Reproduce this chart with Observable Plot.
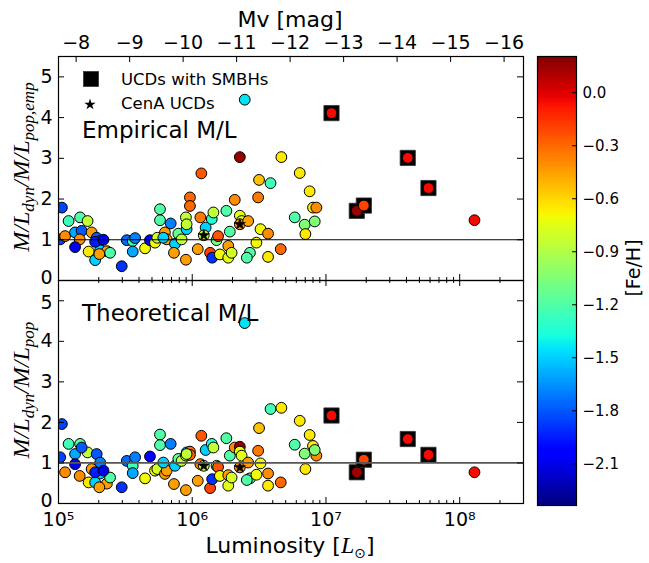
<!DOCTYPE html>
<html><head><meta charset="utf-8">
<script src="https://cdn.jsdelivr.net/npm/d3@7"></script>
<script src="https://cdn.jsdelivr.net/npm/@observablehq/plot@0.6"></script>
<style>
body{margin:0;background:#fff;}
#wrap{position:relative;width:649px;height:563px;overflow:hidden;background:#fff;}
#wrap svg{position:absolute;}
</style></head><body><div id="wrap"></div>
<script>
// ---- data ----
const lum = [1.06e5,1.19e5,1.45e5,1.65e5,1.03e5,1.12e5,1.33e5,1.49e5,1.44e5,1.77e5,
  1.93e5,2.05e5,1.33e5,1.68e5,2.05e5,1.88e5,2.30e5,2.43e5,2.97e5,3.24e5,
  3.59e5,3.74e5,3.59e5,4.44e5,4.83e5,5.27e5,5.48e5,5.74e5,5.74e5,6.25e5,
  6.44e5,6.90e5,7.43e5,7.30e5,7.87e5,8.33e5,9.08e5,8.97e5,9.61e5,9.61e5,
  9.08e5,8.97e5,1.10e6,1.17e6,1.15e6,1.26e6,1.22e6,1.40e6,1.44e6,1.52e6,
  1.56e6,1.36e6,1.41e6,1.61e6,1.80e6,1.86e6,1.86e6,1.97e6,1.91e6,2.08e6,
  2.27e6,2.27e6,2.34e6,2.27e6,2.62e6,2.47e6,2.70e6,2.56e6,3.02e6,3.11e6,
  3.16e6,3.24e6,3.69e6,3.69e6,3.85e6,4.59e6,4.64e6,5.84e6,6.37e6,7.55e6,
  8.0e6,8.48e6,6.93e6,8.24e6,7.02e6,1.88e5,2.17e5,2.02e5,6.08e5,1.29e8];
const feh = [-1.85,-1.25,-1.2,-0.85,-1.85,-0.4,-1.6,-1.8,-0.4,-0.45,
  -1.8,-1.7,-2.1,-0.65,-1.5,-1.5,-0.45,-1.2,-1.9,-1.75,
  -1.25,-1.7,-1.6,-0.7,-2.05,-0.7,-0.8,-1.2,-1.2,-0.45,
  -0.45,-1.7,-1.5,-0.45,-1.15,-0.85,-1.5,-0.85,-0.3,-0.3,
  -0.85,-0.45,-0.45,-0.25,-0.35,-1.5,-0.85,-1.35,-0.85,-1.1,
  -0.25,-0.2,-1.9,-0.7,-1.2,-0.45,-0.75,-0.8,-1.2,-0.4,
  0.15,-0.75,-0.75,-0.4,-0.45,-1.45,-1.2,-1.2,-0.7,-0.35,
  -0.55,-0.7,-0.4,-0.65,-1.25,-0.3,-0.65,-1.2,-0.65,-0.65,
  -0.65,-0.4,-1.05,-1.05,-0.65,-1.95,-2.1,-0.45,-1.5,-0.05];
const mlEmp = [1.79,1.46,1.55,1.46,1.01,1.09,1.18,1.22,1.01,1.18,
  1.05,0.97,0.82,0.71,0.74,0.50,0.72,0.68,0.35,0.99,
  0.97,1.04,0.71,0.79,0.99,0.93,1.05,1.75,1.48,1.18,
  1.01,1.40,0.90,0.68,1.15,1.01,1.26,1.55,2.04,1.83,
  1.38,0.51,0.77,2.63,1.55,1.30,1.11,1.51,1.67,0.99,
  1.09,0.68,0.56,0.64,1.71,0.85,0.56,0.68,1.20,1.98,
  3.03,1.59,1.46,1.38,1.46,4.44,0.68,0.56,0.93,2.04,
  2.47,1.26,1.15,0.58,2.39,0.77,3.03,1.55,2.64,2.19,
  1.79,1.79,1.37,1.45,1.14,0.95,1.00,0.65,1.05,1.48];
const mlTheo = [1.96,1.47,1.47,1.26,1.14,0.77,1.22,1.38,0.68,0.85,
  1.22,1.01,0.97,0.52,0.74,0.52,0.49,0.64,0.40,1.05,
  0.93,1.14,0.75,0.62,1.16,0.81,0.85,1.70,1.44,0.73,
  0.81,1.47,0.93,0.48,1.10,1.05,1.26,1.18,1.28,1.20,
  1.22,0.33,0.56,1.67,0.97,1.32,0.93,1.47,1.38,0.93,
  0.90,0.38,0.60,0.68,1.61,0.70,0.44,0.64,1.18,1.38,
  1.40,1.28,1.18,0.89,1.01,4.45,0.62,0.58,0.71,1.30,
  1.86,0.99,0.74,0.44,2.33,0.52,2.36,1.45,2.04,1.69,
  1.42,1.18,1.23,1.32,0.85,0.77,0.81,0.40,1.01,0.77];
const smbhLum  = [1.10e7,1.70e7,1.92e7,4.09e7,5.84e7];
const smbhFeh  = [-0.05,0.15,-0.2,-0.05,-0.05];
const smbhEmp  = [4.11,1.71,1.84,3.01,2.27];
const smbhTheo = [2.17,0.77,1.08,1.59,1.20];
const cenaLum  = [1.22e6,2.27e6];
const cenaEmp  = [1.11,1.38];
const cenaTheo = [0.93,0.89];
const xMajorTicks = [1e5,1e6,1e7,1e8];
const xMinorMult = [2,3,4,5,6,7,8,9];
const yTicks = [0,1,2,3,4,5];
const mvTicks = [-8,-9,-10,-11,-12,-13,-14,-15,-16];
const fehTicks = [0.0,-0.3,-0.6,-0.9,-1.2,-1.5,-1.8,-2.1];
const FEH_DOMAIN = [-2.336,0.205];
const X_DOMAIN = [1e5,3e8];
const Y_DOMAIN = [0,5.5];
const MSUN_V = 4.83;

// matplotlib "jet"
function jet(t){
  t = Math.max(0, Math.min(1, t));
  const seg = pts => { for (let i = 1; i < pts.length; i++) if (t <= pts[i][0]) { const [x0,v0] = pts[i-1], [x1,v1] = pts[i]; return v0 + (v1-v0)*(t-x0)/(x1-x0); } return pts[pts.length-1][1]; };
  const r = seg([[0,0],[0.35,0],[0.66,1],[0.89,1],[1,0.5]]);
  const g = seg([[0,0],[0.125,0],[0.375,1],[0.64,1],[0.91,0],[1,0]]);
  const b = seg([[0,0.5],[0.11,1],[0.34,1],[0.65,0],[1,0]]);
  return `rgb(${Math.round(r*255)},${Math.round(g*255)},${Math.round(b*255)})`;
}
const colorScale = {type:"linear", domain: FEH_DOMAIN, interpolate: jet};
const minorTicks = xMajorTicks.flatMap(m => xMinorMult.map(k => k*m)).filter(v => v < X_DOMAIN[1]);
const mvLum = mvTicks.map(m => Math.pow(10, (MSUN_V - m)/2.5));
const fmtMinus = v => String(v).replace("-", "\u2212");
const supDigits = {"0":"\u2070","1":"\u00b9","2":"\u00b2","3":"\u00b3","4":"\u2074","5":"\u2075","6":"\u2076","7":"\u2077","8":"\u2078","9":"\u2079"};

const W = 530, ML = 58, MR = 7, TICK = 6, MINOR = 3;
const style = {background:"transparent", overflow:"visible", fontFamily:"DejaVu Sans"};
const wrap = document.getElementById("wrap");
const yAxisOpts = {anchor:"left", tickSize:0, tickPadding:6, fontSize:19, label:null, tickFormat: d => String(d)};

function panel({vals, smbhVals, cenaVals, height, marginTop, marginBottom, isTop, lineStroke, lineWidth}){
  const innerH = height - marginTop - marginBottom;
  const innerW = W - ML - MR;
  const pts = lum.map((L,i) => ({L, feh: feh[i], v: vals[i]}));
  const sm = smbhLum.map((L,i) => ({L, feh: smbhFeh[i], v: smbhVals[i]}));
  const ce = cenaLum.map((L,i) => ({L, v: cenaVals[i]}));
  const marks = [
    Plot.dot(sm, {x:"L", y:"v", symbol:"square", r:8.6, fill:"black", stroke:"#333", strokeWidth:0.8}),
    Plot.dot(pts, {x:"L", y:"v", r:5.4, fill:"feh", stroke:"black", strokeWidth:1, clip:true}),
    Plot.dot(sm, {x:"L", y:"v", r:5.4, fill:"feh", stroke:"black", strokeWidth:1}),
    Plot.dot(ce, {x:"L", y:"v", symbol:"star", r:3.5, fill:"black", stroke:"black", strokeWidth:0.6}),
    Plot.ruleY([1], {stroke: lineStroke, strokeWidth: lineWidth}),
    // inward ticks
    Plot.tickX(xMajorTicks, {x: d=>d, insetTop: innerH - TICK, stroke:"black"}),
    Plot.tickX(minorTicks, {x: d=>d, insetTop: innerH - MINOR, stroke:"black"}),
    Plot.tickY(yTicks, {y: d=>d, insetRight: innerW - TICK, stroke:"black"}),
    Plot.tickY(yTicks, {y: d=>d, insetLeft: innerW - TICK, stroke:"black"}),
    Plot.axisY(yTicks.filter(d => d > 0 && (isTop || d < 5)), yAxisOpts),
    Plot.axisY([0], {...yAxisOpts, dy:-3}),
    Plot.frame({stroke:"black", strokeWidth:1.2})
  ];
  if (isTop) {
    marks.push(Plot.tickX(mvLum, {x: d=>d, insetBottom: innerH - TICK, stroke:"black"}));
    marks.push(Plot.text(mvLum, {x: d=>d, frameAnchor:"top", lineAnchor:"bottom", dy:-8, fontSize:19,
      text: d => fmtMinus(Math.round(MSUN_V - 2.5*Math.log10(d)))}));
  } else {
    marks.push(Plot.axisY([5], {...yAxisOpts, dy:2}));
    marks.push(Plot.tickX(xMajorTicks, {x: d=>d, insetBottom: innerH - TICK, stroke:"black"}));
    marks.push(Plot.tickX(minorTicks, {x: d=>d, insetBottom: innerH - MINOR, stroke:"black"}));
    marks.push(Plot.axisX(xMajorTicks, {anchor:"bottom", tickSize:0, tickPadding:9, fontSize:19, label:null,
      tickFormat: d => "10" + String(Math.round(Math.log10(d))).split("").map(c => supDigits[c]).join("")}));
  }
  return Plot.plot({
    width: W, height, marginLeft: ML, marginRight: MR, marginTop, marginBottom,
    x: {type:"log", domain: X_DOMAIN, label:null, axis: isTop ? null : undefined},
    y: {domain: Y_DOMAIN, label:null},
    color: colorScale,
    style,
    marks
  });
}

const topPlot = panel({vals: mlEmp, smbhVals: smbhEmp, cenaVals: cenaEmp, height:280, marginTop:56, marginBottom:0, isTop:true, lineStroke:"black", lineWidth:1.2});
topPlot.style.left = "0px"; topPlot.style.top = "0px";
wrap.appendChild(topPlot);
const botPlot = panel({vals: mlTheo, smbhVals: smbhTheo, cenaVals: cenaTheo, height:283, marginTop:0, marginBottom:60, isTop:false, lineStroke:"#555", lineWidth:1.8});
botPlot.style.left = "0px"; botPlot.style.top = "280px";
wrap.appendChild(botPlot);

// colorbar
const cbN = 240, cbStep = (FEH_DOMAIN[1]-FEH_DOMAIN[0])/cbN;
const cbSteps = d3.range(cbN).map(i => FEH_DOMAIN[0] + i*cbStep);
const cbInnerW = 39;
const cb = Plot.plot({
  width: 119, height: 563, marginLeft: 7, marginRight: 73, marginTop: 56, marginBottom: 58,
  y: {domain: FEH_DOMAIN, label:null},
  color: colorScale,
  style,
  marks: [
    Plot.rect(cbSteps, {y1: d=>d, y2: d=>d+cbStep*1.02, fill: d=>d+cbStep/2, shapeRendering:"crispEdges"}),
    Plot.tickY(fehTicks, {y: d=>d, insetLeft: cbInnerW - 4, stroke:"black"}),
    Plot.axisY(fehTicks, {anchor:"right", tickSize:0, tickPadding:6, fontSize:15, label:null, tickFormat: d => d3.format(".1f")(d)}),
    Plot.frame({stroke:"black", strokeWidth:1.2})
  ]
});
cb.style.left = "530px"; cb.style.top = "0px";
wrap.appendChild(cb);

// overlay texts & legend
const ov = d3.select(wrap).append("svg").attr("width",649).attr("height",563)
  .style("left","0px").style("top","0px").style("pointer-events","none")
  .attr("font-family","DejaVu Sans");
ov.append("text").attr("x",290).attr("y",27).attr("text-anchor","middle").attr("font-size",22).text("Mv [mag]");
const lt = ov.append("text").attr("x",290).attr("y",553).attr("text-anchor","middle").attr("font-size",22);
lt.append("tspan").text("Luminosity [");
lt.append("tspan").attr("font-family","Liberation Serif").attr("font-style","italic").attr("font-size",24).text("L");
lt.append("tspan").attr("font-size",14).attr("dy",5).text("\u2299");
lt.append("tspan").attr("dy",-5).text("]");

function ylab(x, y, sub2){
  const t = ov.append("text").attr("transform",`translate(${x},${y}) rotate(-90)`).attr("text-anchor","middle")
    .attr("font-family","Liberation Serif").attr("font-style","italic").attr("font-size",24);
  t.append("tspan").text("M/L");
  t.append("tspan").attr("font-size",17).attr("dy",5).text("dyn");
  t.append("tspan").attr("dy",-5).text("/M/L");
  t.append("tspan").attr("font-size",17).attr("dy",5).text(sub2);
}
ylab(29,167,"pop,emp");
ylab(29,390,"pop");
ov.append("text").attr("transform","translate(640,268) rotate(-90)").attr("text-anchor","middle").attr("font-size",19).text("[Fe/H]");

ov.append("text").attr("x",82).attr("y",138).attr("font-size",23).text("Empirical M/L");
ov.append("text").attr("x",82).attr("y",321).attr("font-size",23).text("Theoretical M/L");
ov.append("rect").attr("x",83.5).attr("y",71.5).attr("width",15).attr("height",15).attr("fill","black").attr("stroke","#333").attr("stroke-width",0.8);
ov.append("text").attr("x",121).attr("y",85).attr("font-size",16.5).text("UCDs with SMBHs");
ov.append("path").attr("transform","translate(90,104.5)").attr("d", d3.symbol(d3.symbolStar, 40)()).attr("fill","black");
ov.append("text").attr("x",121).attr("y",109).attr("font-size",16.5).text("CenA UCDs");
</script></body></html>
